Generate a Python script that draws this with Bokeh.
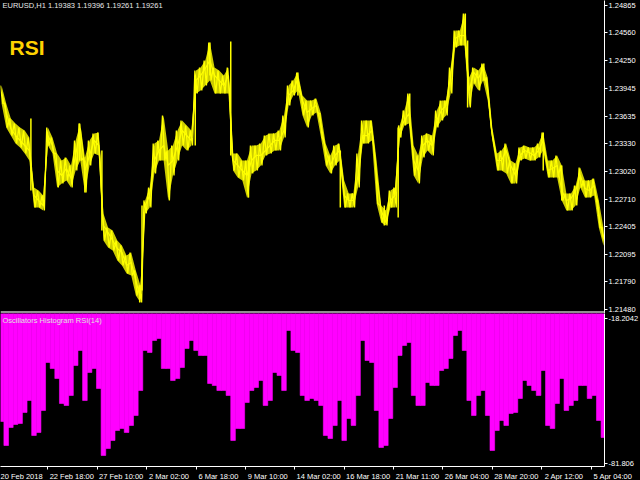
from bokeh.plotting import figure
from bokeh.models import Range1d, LinearAxis, FixedTicker, Span, Label, PrintfTickFormatter
from bokeh.layouts import column
from bokeh.embed import file_html
from bokeh.resources import INLINE

# ---------------- data ----------------
# bar index (H1 bars) of every sampled point
bar_index = list(range(4, 785, 6))

# EURUSD H1 close (sampled)
close = [
    1.23897, 1.23674, 1.23496, 1.23418, 1.23363, 1.23307, 1.23251, 1.22751, 1.22695, 1.22639,
    1.23418, 1.23307, 1.23029, 1.22973, 1.23051, 1.22940, 1.23196, 1.23496, 1.23029, 1.23196,
    1.23363, 1.23307, 1.22417, 1.22339, 1.22250, 1.22161, 1.22116, 1.21972, 1.22005, 1.21805,
    1.21604, 1.22639, 1.22751, 1.23140, 1.23251, 1.23307, 1.23085, 1.23140, 1.23307, 1.23474,
    1.23418, 1.23363, 1.24031, 1.24086, 1.24164, 1.24253, 1.24086, 1.24031, 1.23975, 1.24086,
    1.23140, 1.23085, 1.23029, 1.22973, 1.23140, 1.23196, 1.23196, 1.23251, 1.23307, 1.23363,
    1.23363, 1.23474, 1.23864, 1.23919, 1.24053, 1.23808, 1.23674, 1.23719, 1.23752, 1.23530,
    1.23251, 1.23085, 1.23196, 1.23251, 1.22751, 1.22695, 1.22695, 1.22973, 1.23418, 1.23418,
    1.23474, 1.22973, 1.22584, 1.22450, 1.22695, 1.22751, 1.23474, 1.23585, 1.23663, 1.23140,
    1.23029, 1.23307, 1.23363, 1.23307, 1.23585, 1.23697, 1.23752, 1.24086, 1.24498, 1.24531,
    1.24531, 1.23919, 1.24120, 1.24053, 1.24164, 1.23919, 1.23418, 1.23140, 1.23140, 1.23251,
    1.23085, 1.22973, 1.23196, 1.23251, 1.23229, 1.23196, 1.23251, 1.23363, 1.23029, 1.23051,
    1.23085, 1.22806, 1.22695, 1.22717, 1.22806, 1.22973, 1.22829, 1.22806, 1.22862, 1.22528,
    1.22272,
]

# local high / low around each sampled point
high = [
    1.23975, 1.23775, 1.23608, 1.23552, 1.23507, 1.23474, 1.23396, 1.22840, 1.22806, 1.22751,
    1.23507, 1.23396, 1.23218, 1.23140, 1.23174, 1.23085, 1.23363, 1.23552, 1.23174, 1.23363,
    1.23441, 1.23452, 1.22550, 1.22394, 1.22361, 1.22250, 1.22194, 1.22083, 1.22116, 1.21916,
    1.21749, 1.22695, 1.22840, 1.23329, 1.23363, 1.23641, 1.23251, 1.23307, 1.23474, 1.23585,
    1.23530, 1.23474, 1.24142, 1.24175, 1.24253, 1.24454, 1.24175, 1.24142, 1.24086, 1.24175,
    1.23218, 1.23218, 1.23140, 1.23140, 1.23307, 1.23307, 1.23329, 1.23418, 1.23441, 1.23441,
    1.23474, 1.23641, 1.23975, 1.24031, 1.24120, 1.23864, 1.23808, 1.23808, 1.23830, 1.23663,
    1.23329, 1.23196, 1.23307, 1.23329, 1.22918, 1.22773, 1.22773, 1.23218, 1.23585, 1.23585,
    1.23585, 1.23140, 1.22639, 1.22584, 1.22806, 1.22840, 1.23530, 1.23697, 1.23886, 1.23307,
    1.23196, 1.23418, 1.23441, 1.23418, 1.23697, 1.23808, 1.23808, 1.24175, 1.24587, 1.24587,
    1.24776, 1.24064, 1.24175, 1.24142, 1.24220, 1.24064, 1.23507, 1.23218, 1.23251, 1.23329,
    1.23140, 1.23107, 1.23285, 1.23307, 1.23285, 1.23285, 1.23329, 1.23452, 1.23140, 1.23140,
    1.23196, 1.23085, 1.22773, 1.22773, 1.22862, 1.23062, 1.22918, 1.22918, 1.22940, 1.22695,
    1.22394,
]
low = [
    1.23775, 1.23507, 1.23418, 1.23329, 1.23285, 1.23218, 1.23140, 1.22617, 1.22617, 1.22584,
    1.23307, 1.23218, 1.22840, 1.22884, 1.22918, 1.22840, 1.23029, 1.23140, 1.22784, 1.23085,
    1.23218, 1.23196, 1.22250, 1.22172, 1.22138, 1.22027, 1.21972, 1.21883, 1.21860, 1.21638,
    1.21560, 1.22550, 1.22617, 1.22996, 1.23140, 1.23140, 1.22695, 1.22973, 1.23140, 1.23307,
    1.23251, 1.23307, 1.23886, 1.23919, 1.23975, 1.24031, 1.23886, 1.23886, 1.23886, 1.23886,
    1.23029, 1.22951, 1.22918, 1.22728, 1.22996, 1.23029, 1.23085, 1.23196, 1.23218, 1.23251,
    1.23251, 1.23396, 1.23752, 1.23864, 1.23919, 1.23641, 1.23507, 1.23641, 1.23674, 1.23396,
    1.23085, 1.22996, 1.23085, 1.23140, 1.22617, 1.22617, 1.22617, 1.22840, 1.23329, 1.23329,
    1.23363, 1.22662, 1.22450, 1.22417, 1.22617, 1.22617, 1.23396, 1.23530, 1.23552, 1.22973,
    1.22884, 1.23174, 1.23251, 1.23196, 1.23507, 1.23585, 1.23641, 1.23886, 1.24398, 1.24420,
    1.24420, 1.23730, 1.23997, 1.23919, 1.24031, 1.23808, 1.23363, 1.23029, 1.23029, 1.22996,
    1.22884, 1.22884, 1.23140, 1.23162, 1.23140, 1.23140, 1.23174, 1.23251, 1.22951, 1.22951,
    1.22951, 1.22695, 1.22584, 1.22584, 1.22639, 1.22840, 1.22728, 1.22728, 1.22751, 1.22394,
    1.22194,
]

# notable bar wicks: index, high, low
wick_index = [42, 105, 112, 134, 183, 186, 255, 274, 301, 324, 388, 443, 500, 518, 533, 605, 608, 629, 706, 730]
wick_high = [1.23608, 1.23552, 1.23140, 1.23251, 1.21749, 1.22639, 1.24086, 1.24454, 1.24465, 1.23140,
             1.24120, 1.23251, 1.22639, 1.23507, 1.23886, 1.24776, 1.24476, 1.24220, 1.23452, 1.23085]
wick_low = [1.22806, 1.23140, 1.22784, 1.22361, 1.21560, 1.21693, 1.23307, 1.24086, 1.23196, 1.22728,
            1.23864, 1.22617, 1.22417, 1.22506, 1.23530, 1.24420, 1.23730, 1.24031, 1.23029, 1.22695]

# Oscillators Histogram RSI(14) (sampled)
hist = [
    -63.39, -73.92, -66.02, -64.71, -64.27, -59.44, -54.18, -69.53, -68.22, -58.56,
    -37.51, -40.14, -44.53, -55.49, -56.37, -51.98, -38.82, -32.24, -54.18, -41.89,
    -40.14, -48.91, -78.31, -75.24, -71.72, -67.34, -66.46, -68.22, -65.14, -60.76,
    -49.79, -32.24, -33.12, -27.86, -26.98, -40.14, -40.14, -45.40, -44.53, -39.70,
    -31.37, -27.86, -32.24, -34.44, -34.44, -46.72, -47.60, -49.79, -49.79, -51.98,
    -71.72, -66.46, -66.46, -55.05, -49.79, -48.47, -45.40, -56.37, -54.18, -41.89,
    -43.21, -49.79, -23.47, -32.24, -33.12, -51.98, -54.18, -53.30, -54.18, -56.37,
    -69.53, -70.85, -65.14, -54.18, -71.72, -62.07, -65.14, -51.98, -27.86, -36.63,
    -37.51, -58.56, -74.80, -73.92, -62.07, -48.47, -34.44, -30.05, -28.73, -51.98,
    -56.37, -56.37, -46.28, -47.60, -47.60, -41.02, -40.14, -35.75, -25.66, -23.47,
    -32.24, -54.18, -60.76, -51.98, -49.79, -60.76, -76.11, -67.34, -62.95, -65.14,
    -59.88, -59.44, -53.30, -45.40, -47.60, -49.79, -51.98, -41.02, -65.14, -66.46,
    -55.49, -44.53, -58.56, -56.37, -54.18, -47.60, -47.60, -53.30, -51.98, -62.95,
    -70.41,
]

price_ticks = [1.24865, 1.24560, 1.24250, 1.23945, 1.23635, 1.23330, 1.23020,
               1.22710, 1.22405, 1.22095, 1.21790, 1.21480]
osc_ticks = [-18.2042, -81.806]
osc_tick_labels = ["-18.2042", "-81.806"]

time_tick_index = [0, 64, 128, 192, 256, 320, 384, 448, 512, 576, 640, 704, 768]
time_tick_labels = ["20 Feb 2018", "22 Feb 18:00", "27 Feb 10:00", "2 Mar 02:00", "6 Mar 18:00",
                    "9 Mar 10:00", "14 Mar 02:00", "16 Mar 18:00", "21 Mar 11:00", "26 Mar 04:00",
                    "28 Mar 20:00", "2 Apr 12:00", "5 Apr 04:00"]

assert len(close) == len(bar_index) == len(hist) == len(high) == len(low)

# ---------------- styling ----------------
FONT = "Liberation Sans"
FS = "7.5px"
TXT = "#ffffff"
FW = 604
XR = (2.6, 785.4)
YELLOW = "#ffff00"
CHAR_W = 3.65   # approx. average glyph width at FS
NBSP_W = 2.08   # width of a no-break space at FS

def base(fig):
    fig.grid.visible = False
    fig.background_fill_color = "black"
    fig.border_fill_color = "black"
    fig.outline_line_color = None

def right_axis(ticks, labels=None, fmt=None):
    ax = LinearAxis(ticker=FixedTicker(ticks=ticks))
    if fmt:
        ax.formatter = PrintfTickFormatter(format=fmt)
    if labels:
        ax.major_label_overrides = {t: l for t, l in zip(ticks, labels)}
    ax.axis_line_color = "white"
    ax.major_tick_line_color = "white"
    ax.major_tick_out = 3
    ax.major_tick_in = 0
    ax.minor_tick_out = 0
    ax.minor_tick_in = 0
    ax.major_label_standoff = 1
    ax.major_label_text_color = TXT
    ax.major_label_text_font = FONT
    ax.major_label_text_font_size = FS
    return ax

# ---------------- top: price ----------------
top = figure(frame_width=FW, frame_height=313, x_range=Range1d(*XR),
             y_range=Range1d(1.21437, 1.24921), output_backend="svg", toolbar_location=None,
             x_axis_location=None, y_axis_location=None, min_border=0)
base(top)
top.add_layout(right_axis(price_ticks, fmt="%.5f"), "right")
top.varea(x=bar_index, y1=low, y2=high, fill_color=YELLOW, fill_alpha=0.8)
# bar-like zigzag between the local high and low of each sample
zz_x, zz_y = [], []
for i, h, l in zip(bar_index, high, low):
    zz_x += [i - 1.5, i + 1.5]
    zz_y += [h, l]
top.line(zz_x, zz_y, line_color=YELLOW, line_width=1.3)
top.segment(x0=wick_index, y0=wick_low, x1=wick_index, y1=wick_high, line_color=YELLOW, line_width=1.5)
top.line(bar_index, close, line_color=YELLOW, line_width=1.2)
top.add_layout(Span(location=1.21454, dimension="width", line_color="#909090", line_width=2))
top.add_layout(Label(x=2, y=308, x_units="screen", y_units="screen",
                     text="EURUSD,H1  1.19383 1.19396 1.19261 1.19261",
                     text_font=FONT, text_font_size=FS, text_color="#e8e8e8", text_baseline="middle"))
top.add_layout(Label(x=9, y=266, x_units="screen", y_units="screen", text="RSI",
                     text_font=FONT, text_font_size="21px", text_font_style="bold",
                     text_color="#ffd200", text_baseline="middle"))

# ---------------- bottom: oscillator histogram ----------------
bot = figure(frame_width=FW, frame_height=153, x_range=top.x_range,
             y_range=Range1d(-83.13, -16.01), output_backend="svg", toolbar_location=None,
             x_axis_location=None, y_axis_location=None, min_border=0)
base(bot)
bot.vbar(x=bar_index, bottom=hist, top=0, width=6, fill_color="#ff00ff",
         line_color="#ff00ff", line_width=0.6)
bot.add_layout(right_axis(osc_ticks, labels=osc_tick_labels), "right")
bot.add_layout(Label(x=2, y=146, x_units="screen", y_units="screen",
                     text="Oscillators Histogram RSI(14)", text_font=FONT, text_font_size=FS,
                     text_color="#e0e0e0", text_baseline="middle"))

# time axis: tick marks at the bar, label text starting just right of it (MT4 style)
ppb = FW / (XR[1] - XR[0])
major_pos, overrides = [], {}
for t, l in zip(time_tick_index, time_tick_labels):
    p = int(round(t + (len(l) * CHAR_W / 2 + 2) / ppb))
    if p <= XR[1]:
        major_pos.append(p)
        overrides[p] = l
    else:
        # label would be centred outside the range: anchor it on its own tick and
        # pad it on the left with no-break spaces so that the text starts at the tick
        n = int(round((len(l) * CHAR_W / 2 + 2) / (NBSP_W / 2)))
        major_pos.append(t)
        overrides[t] = "\u00a0" * n + l
xa = LinearAxis(ticker=FixedTicker(ticks=major_pos, minor_ticks=time_tick_index))
xa.major_label_overrides = overrides
xa.axis_line_color = "white"
xa.major_tick_line_color = None
xa.major_tick_out = 0
xa.major_tick_in = 0
xa.minor_tick_line_color = "white"
xa.minor_tick_out = 3
xa.minor_tick_in = 0
xa.major_label_standoff = 2
xa.major_label_text_color = TXT
xa.major_label_text_font = FONT
xa.major_label_text_font_size = FS
bot.add_layout(xa, "below")

layout = column(top, bot, spacing=0)
layout.styles = {"background-color": "black"}

open("out.html", "w").write(file_html(layout, INLINE))
